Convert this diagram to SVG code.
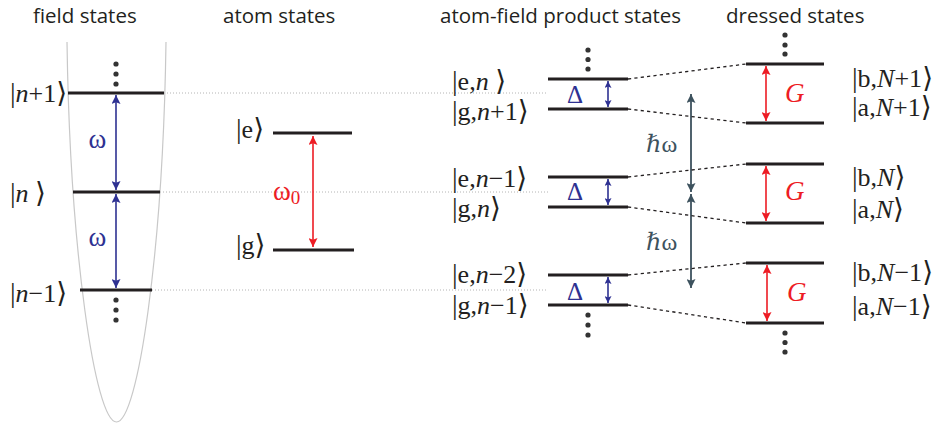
<svg xmlns="http://www.w3.org/2000/svg" width="938" height="427" viewBox="0 0 938 427">
<style>
.title{font-family:"Open Sans","Noto Sans",sans-serif;font-size:20.5px;fill:#231f20}
.lbl{font-family:"Liberation Serif","DejaVu Serif",serif;font-size:26px;fill:#231f20}
.br{font-size:28px}
.it{font-style:italic}
.lvl{stroke:#231f20;stroke-width:3.2;fill:none}
.guide{stroke:#b4b4b4;stroke-width:1;stroke-dasharray:1 2;fill:none}
.dash{stroke:#231f20;stroke-width:1.3;stroke-dasharray:3.2 3.2;fill:none}
.dot{fill:#333}
.blue{stroke:#2e3192;stroke-width:1.6;fill:none}
.red{stroke:#ed1c24;stroke-width:1.6;fill:none}
.slate{stroke:#3d525e;stroke-width:1.8;fill:none}
.sym{font-family:"Liberation Serif","DejaVu Serif",serif;font-size:24px}
.om{font-size:27px}
.delta{font-size:25px;fill:#2e3192}
.g{font-size:27px;font-style:italic;fill:#ed1c24}
</style>
<defs>
<marker id="ab" viewBox="0 0 10 10" refX="10" refY="5" markerWidth="10" markerHeight="9" markerUnits="userSpaceOnUse" orient="auto-start-reverse"><path d="M0,0 L10,5 L0,10 L2,5 z" fill="#2e3192"/></marker>
<marker id="abs" viewBox="0 0 10 10" refX="10" refY="5" markerWidth="7" markerHeight="7" markerUnits="userSpaceOnUse" orient="auto-start-reverse"><path d="M0,0 L10,5 L0,10 L2,5 z" fill="#2e3192"/></marker>
<marker id="ar" viewBox="0 0 10 10" refX="10" refY="5" markerWidth="10" markerHeight="9" markerUnits="userSpaceOnUse" orient="auto-start-reverse"><path d="M0,0 L10,5 L0,10 L2,5 z" fill="#ed1c24"/></marker>
<marker id="as" viewBox="0 0 10 10" refX="10" refY="5" markerWidth="11" markerHeight="9" markerUnits="userSpaceOnUse" orient="auto-start-reverse"><path d="M0,0 L10,5 L0,10 L2,5 z" fill="#3d525e"/></marker>
</defs>

<g id="titles">
<text class="title" x="33" y="23">field states</text>
<text class="title" x="223" y="23">atom states</text>
<text class="title" x="440" y="23">atom-field product states</text>
<text class="title" x="726" y="23">dressed states</text>
</g>

<g id="guides">
<line class="guide" x1="164" y1="93" x2="548" y2="93"/>
<line class="guide" x1="160" y1="192" x2="548" y2="192"/>
<line class="guide" x1="152" y1="290" x2="548" y2="290"/>
</g>

<g id="field-states">
<path d="M67,42 C70,250 95,422 116.5,422 C138,422 163,250 166,42" fill="none" stroke="#c8c8c8" stroke-width="1.2"/>
<line class="lvl" x1="68" y1="93" x2="164" y2="93"/>
<line class="lvl" x1="73" y1="192" x2="160" y2="192"/>
<line class="lvl" x1="80" y1="290" x2="152" y2="290"/>
<circle class="dot" cx="116" cy="64" r="2.6"/><circle class="dot" cx="116" cy="74" r="2.6"/><circle class="dot" cx="116" cy="84" r="2.6"/>
<circle class="dot" cx="116" cy="300" r="2.6"/><circle class="dot" cx="116" cy="310" r="2.6"/><circle class="dot" cx="116" cy="320" r="2.6"/>
<line class="blue" x1="116" y1="95" x2="116" y2="190" marker-start="url(#ab)" marker-end="url(#ab)"/>
<line class="blue" x1="116" y1="194" x2="116" y2="288" marker-start="url(#ab)" marker-end="url(#ab)"/>
<text class="sym om" x="97.5" y="148" text-anchor="middle" fill="#2e3192">ω</text>
<text class="sym om" x="97.5" y="246" text-anchor="middle" fill="#2e3192">ω</text>
<text class="lbl" x="10" y="102"><tspan class="br">|</tspan><tspan class="it">n</tspan>+1<tspan class="br">⟩</tspan></text>
<text class="lbl" x="10" y="202"><tspan class="br">|</tspan><tspan class="it">n</tspan> <tspan class="br">⟩</tspan></text>
<text class="lbl" x="10" y="302"><tspan class="br">|</tspan><tspan class="it">n</tspan>−1<tspan class="br">⟩</tspan></text>
</g>

<g id="atom-states">
<line class="lvl" x1="273" y1="133" x2="352" y2="133"/>
<line class="lvl" x1="273" y1="250" x2="354" y2="250"/>
<line class="red" x1="313" y1="136" x2="313" y2="247" marker-start="url(#ar)" marker-end="url(#ar)"/>
<text class="sym om" x="273" y="200" fill="#ed1c24">ω<tspan style="font-size:19px" dy="4">0</tspan></text>
<text class="lbl" x="236" y="138"><tspan class="br">|</tspan>e<tspan class="br">⟩</tspan></text>
<text class="lbl" x="236" y="254"><tspan class="br">|</tspan>g<tspan class="br">⟩</tspan></text>
</g>

<g id="product-states">
<line class="lvl" x1="548" y1="79" x2="628" y2="79"/>
<line class="lvl" x1="548" y1="109" x2="628" y2="109"/>
<line class="lvl" x1="548" y1="177" x2="628" y2="177"/>
<line class="lvl" x1="548" y1="207" x2="628" y2="207"/>
<line class="lvl" x1="548" y1="275" x2="628" y2="275"/>
<line class="lvl" x1="548" y1="305" x2="628" y2="305"/>
<circle class="dot" cx="588" cy="50" r="2.6"/><circle class="dot" cx="588" cy="59.5" r="2.6"/><circle class="dot" cx="588" cy="69" r="2.6"/>
<circle class="dot" cx="588" cy="315" r="2.6"/><circle class="dot" cx="588" cy="325" r="2.6"/><circle class="dot" cx="588" cy="335" r="2.6"/>
<line class="blue" x1="608" y1="81" x2="608" y2="107" marker-start="url(#abs)" marker-end="url(#abs)"/>
<line class="blue" x1="608" y1="179" x2="608" y2="205" marker-start="url(#abs)" marker-end="url(#abs)"/>
<line class="blue" x1="608" y1="277" x2="608" y2="303" marker-start="url(#abs)" marker-end="url(#abs)"/>
<text class="sym delta" x="575" y="103" text-anchor="middle">Δ</text>
<text class="sym delta" x="575" y="200" text-anchor="middle">Δ</text>
<text class="sym delta" x="575" y="300" text-anchor="middle">Δ</text>
<text class="lbl" x="452" y="90"><tspan class="br">|</tspan>e,<tspan class="it">n</tspan> <tspan class="br">⟩</tspan></text>
<text class="lbl" x="452" y="120"><tspan class="br">|</tspan>g,<tspan class="it">n</tspan>+1<tspan class="br">⟩</tspan></text>
<text class="lbl" x="452" y="187"><tspan class="br">|</tspan>e,<tspan class="it">n</tspan>−1<tspan class="br">⟩</tspan></text>
<text class="lbl" x="452" y="217"><tspan class="br">|</tspan>g,<tspan class="it">n</tspan><tspan class="br">⟩</tspan></text>
<text class="lbl" x="452" y="283"><tspan class="br">|</tspan>e,<tspan class="it">n</tspan>−2<tspan class="br">⟩</tspan></text>
<text class="lbl" x="452" y="314"><tspan class="br">|</tspan>g,<tspan class="it">n</tspan>−1<tspan class="br">⟩</tspan></text>
</g>

<g id="photon-energy">
<line class="slate" x1="691" y1="94" x2="691" y2="192" marker-start="url(#as)" marker-end="url(#as)"/>
<line class="slate" x1="691" y1="194" x2="691" y2="288" marker-start="url(#as)" marker-end="url(#as)"/>
<text class="sym" x="646" y="152" fill="#3d525e"><tspan class="it">ℏ</tspan>ω</text>
<text class="sym" x="646" y="250" fill="#3d525e"><tspan class="it">ℏ</tspan>ω</text>
</g>

<g id="dressed-states">
<line class="lvl" x1="746" y1="64" x2="824" y2="64"/>
<line class="lvl" x1="746" y1="123" x2="824" y2="123"/>
<line class="lvl" x1="746" y1="164" x2="824" y2="164"/>
<line class="lvl" x1="746" y1="223" x2="824" y2="223"/>
<line class="lvl" x1="746" y1="263" x2="824" y2="263"/>
<line class="lvl" x1="746" y1="323" x2="824" y2="323"/>
<circle class="dot" cx="785" cy="35" r="2.6"/><circle class="dot" cx="785" cy="45" r="2.6"/><circle class="dot" cx="785" cy="54" r="2.6"/>
<circle class="dot" cx="785" cy="333" r="2.6"/><circle class="dot" cx="785" cy="342.5" r="2.6"/><circle class="dot" cx="785" cy="352" r="2.6"/>
<line class="red" x1="766" y1="66" x2="766" y2="121" marker-start="url(#ar)" marker-end="url(#ar)"/>
<line class="red" x1="766" y1="166" x2="766" y2="221" marker-start="url(#ar)" marker-end="url(#ar)"/>
<line class="red" x1="767" y1="265" x2="767" y2="321" marker-start="url(#ar)" marker-end="url(#ar)"/>
<text class="sym g" x="785" y="102">G</text>
<text class="sym g" x="785" y="200">G</text>
<text class="sym g" x="787" y="301">G</text>
<text class="lbl" x="852" y="87"><tspan class="br">|</tspan>b,<tspan class="it">N</tspan>+1<tspan class="br">⟩</tspan></text>
<text class="lbl" x="852" y="116"><tspan class="br">|</tspan>a,<tspan class="it">N</tspan>+1<tspan class="br">⟩</tspan></text>
<text class="lbl" x="852" y="186"><tspan class="br">|</tspan>b,<tspan class="it">N</tspan><tspan class="br">⟩</tspan></text>
<text class="lbl" x="852" y="218"><tspan class="br">|</tspan>a,<tspan class="it">N</tspan><tspan class="br">⟩</tspan></text>
<text class="lbl" x="852" y="281"><tspan class="br">|</tspan>b,<tspan class="it">N</tspan>−1<tspan class="br">⟩</tspan></text>
<text class="lbl" x="852" y="315"><tspan class="br">|</tspan>a,<tspan class="it">N</tspan>−1<tspan class="br">⟩</tspan></text>
</g>

<g id="connectors">
<line class="dash" x1="628" y1="79" x2="746" y2="64"/>
<line class="dash" x1="628" y1="109" x2="746" y2="123"/>
<line class="dash" x1="628" y1="177" x2="746" y2="164"/>
<line class="dash" x1="628" y1="207" x2="746" y2="223"/>
<line class="dash" x1="628" y1="275" x2="746" y2="263"/>
<line class="dash" x1="628" y1="305" x2="746" y2="323"/>
</g>
</svg>
